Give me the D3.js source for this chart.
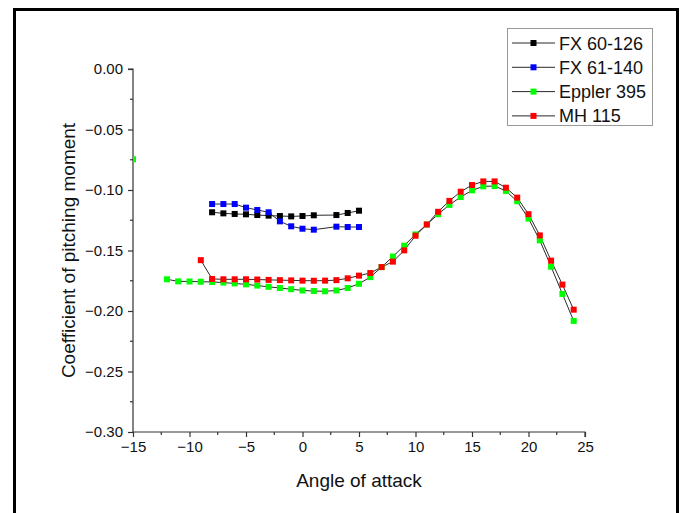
<!DOCTYPE html>
<html>
<head>
<meta charset="utf-8">
<script src="https://cdn.jsdelivr.net/npm/d3@7/dist/d3.min.js"></script>
<style>
  html, body { margin: 0; padding: 0; background: #fff; }
  svg { display: block; }
  text { font-family: "Liberation Sans", Arial, sans-serif; fill: #111; }
</style>
</head>
<body>
<svg id="chart" width="683" height="513"></svg>
<script>
// ---- Data ----
const seriesNames = ["FX 60-126", "FX 61-140", "Eppler 395", "MH 115"];
const seriesColors = ["#000000", "#0000ff", "#00ff00", "#ff0000"];

const fx60Angle = [-8, -7, -6, -5, -4, -3, -2, -1, 0, 1, 3, 4, 5];
const fx60Cm = [-0.1184, -0.1193, -0.1198, -0.1201, -0.1207, -0.1212, -0.1215, -0.1218, -0.1215, -0.1209, -0.1207, -0.1190, -0.1171];

const fx61Angle = [-8, -7, -6, -5, -4, -3, -2, -1, 0, 1, 3, 4, 5];
const fx61Cm = [-0.1116, -0.1116, -0.1116, -0.1146, -0.1165, -0.1184, -0.1259, -0.1300, -0.1320, -0.1328, -0.1303, -0.1306, -0.1306];

const epplerAngle = [-15, -12, -11, -10, -9, -8, -7, -6, -5, -4, -3, -2, -1, 0, 1, 2, 3, 4, 5, 6, 7, 8, 9, 10, 11, 12, 13, 14, 15, 16, 17, 18, 19, 20, 21, 22, 23, 24];
const epplerCm = [-0.0746, -0.1738, -0.1755, -0.1756, -0.1758, -0.1760, -0.1765, -0.1772, -0.1780, -0.1790, -0.1800, -0.1810, -0.1820, -0.1830, -0.1835, -0.1837, -0.1830, -0.1810, -0.1775, -0.1720, -0.1637, -0.1550, -0.1460, -0.1367, -0.1285, -0.1200, -0.1123, -0.1058, -0.1003, -0.0970, -0.0967, -0.1008, -0.1093, -0.1236, -0.1416, -0.1634, -0.1859, -0.2082];

const mhAngle = [-9, -8, -7, -6, -5, -4, -3, -2, -1, 0, 1, 2, 3, 4, 5, 6, 7, 8, 9, 10, 11, 12, 13, 14, 15, 16, 17, 18, 19, 20, 21, 22, 23, 24];
const mhCm = [-0.1580, -0.1735, -0.1738, -0.1738, -0.1738, -0.1740, -0.1743, -0.1745, -0.1747, -0.1749, -0.1750, -0.1749, -0.1745, -0.1730, -0.1708, -0.1686, -0.1637, -0.1592, -0.1499, -0.1378, -0.1285, -0.1180, -0.1090, -0.1014, -0.0959, -0.0929, -0.0929, -0.0981, -0.1063, -0.1200, -0.1375, -0.1584, -0.1782, -0.1989];

const xTicks = [-15, -10, -5, 0, 5, 10, 15, 20, 25];
const yTicks = [0, -0.05, -0.10, -0.15, -0.20, -0.25, -0.30];
const xLabel = "Angle of attack";
const yLabel = "Coefficient of pitching moment";

// ---- Build ----
const series = [
  {name: seriesNames[0], color: seriesColors[0], x: fx60Angle, y: fx60Cm},
  {name: seriesNames[1], color: seriesColors[1], x: fx61Angle, y: fx61Cm},
  {name: seriesNames[2], color: seriesColors[2], x: epplerAngle, y: epplerCm},
  {name: seriesNames[3], color: seriesColors[3], x: mhAngle, y: mhCm}
].map(s => ({...s, pts: s.x.map((a, i) => ({a, v: s.y[i]}))}));

const svg = d3.select("#chart");
const L = 133, R = 585, T = 69, B = 432;
const x = d3.scaleLinear().domain([-15, 25]).range([L, R]);
const y = d3.scaleLinear().domain([-0.30, 0]).range([B, T]);

// outer frame
svg.append("rect").attr("x", 14.5).attr("y", 9.5).attr("width", 663).attr("height", 520)
  .attr("fill", "none").attr("stroke", "#000").attr("stroke-width", 3);

svg.append("defs").append("clipPath").attr("id", "clip")
  .append("rect").attr("x", L).attr("y", T - 10).attr("width", R - L + 10).attr("height", B - T + 10);

// axes
const xAxis = d3.axisBottom(x).tickValues(xTicks).tickSize(5).tickPadding(4)
  .tickFormat(d => d < 0 ? "\u2212" + Math.abs(d) : d);
const yAxis = d3.axisLeft(y).tickValues(yTicks).tickSize(5).tickPadding(5)
  .tickFormat(d => (d < 0 ? "\u2212" : "") + Math.abs(d).toFixed(2));

const gx = svg.append("g").attr("transform", `translate(0,${B})`).call(xAxis);
const gy = svg.append("g").attr("transform", `translate(${L},0)`).call(yAxis);
[gx, gy].forEach(g => {
  g.select(".domain").attr("stroke", "#333").attr("stroke-width", 1.2);
  g.selectAll(".tick line").attr("stroke", "#333").attr("stroke-width", 1.2);
  g.selectAll(".tick text").style("font-size", "15px").attr("fill", "#111")
    .style("font-family", "'Liberation Sans', Arial, sans-serif");
});
gx.select(".domain").attr("d", `M${L},0H${R}V5`);
gy.select(".domain").attr("d", `M-5,${T}H0V${B}`);

// minor ticks
const xMinor = d3.range(-12.5, 25, 5);
svg.append("g").selectAll("line").data(xMinor).join("line")
  .attr("x1", d => x(d)).attr("x2", d => x(d)).attr("y1", B).attr("y2", B + 3)
  .attr("stroke", "#333").attr("stroke-width", 1.2);
const yMinor = d3.range(-0.025, -0.30, -0.05);
svg.append("g").selectAll("line").data(yMinor).join("line")
  .attr("y1", d => y(d)).attr("y2", d => y(d)).attr("x1", L).attr("x2", L - 3)
  .attr("stroke", "#333").attr("stroke-width", 1.2);

// axis titles
svg.append("text").attr("x", x(5)).attr("y", 487).attr("text-anchor", "middle")
  .style("font-size", "19px").text(xLabel);
svg.append("text").attr("transform", `translate(75,${(T + B) / 2}) rotate(-90)`)
  .attr("text-anchor", "middle").style("font-size", "19px").text(yLabel);

// lines & markers
const plot = svg.append("g").attr("clip-path", "url(#clip)");
series.forEach(s => {
  // split into segments where angle gap exceeds 2
  const segs = [];
  let cur = [];
  s.pts.forEach((p, i) => {
    if (i > 0 && p.a - s.pts[i - 1].a > 2) { segs.push(cur); cur = []; }
    cur.push(p);
  });
  segs.push(cur);
  const line = d3.line().x(d => x(d.a)).y(d => y(d.v));
  segs.filter(sg => sg.length > 1).forEach(sg => {
    plot.append("path").attr("d", line(sg)).attr("fill", "none")
      .attr("stroke", "#2a2a2a").attr("stroke-width", 1);
  });
});
series.forEach(s => {
  plot.append("g").selectAll("rect").data(s.pts).join("rect")
    .attr("x", d => x(d.a) - 3).attr("y", d => y(d.v) - 3)
    .attr("width", 6).attr("height", 6).attr("fill", s.color);
});

// legend
const lg = svg.append("g");
lg.append("rect").attr("x", 507.5).attr("y", 28.5).attr("width", 145).attr("height", 97)
  .attr("fill", "#fff").attr("stroke", "#999").attr("stroke-width", 1);
series.forEach((s, i) => {
  const yy = 43 + i * 24.3;
  lg.append("line").attr("x1", 512).attr("x2", 555).attr("y1", yy).attr("y2", yy)
    .attr("stroke", "#2a2a2a").attr("stroke-width", 1);
  lg.append("rect").attr("x", 530.5).attr("y", yy - 3).attr("width", 6).attr("height", 6).attr("fill", s.color);
  lg.append("text").attr("x", 559).attr("y", yy + 6.5).style("font-size", "18px").text(s.name);
});
</script>
</body>
</html>
